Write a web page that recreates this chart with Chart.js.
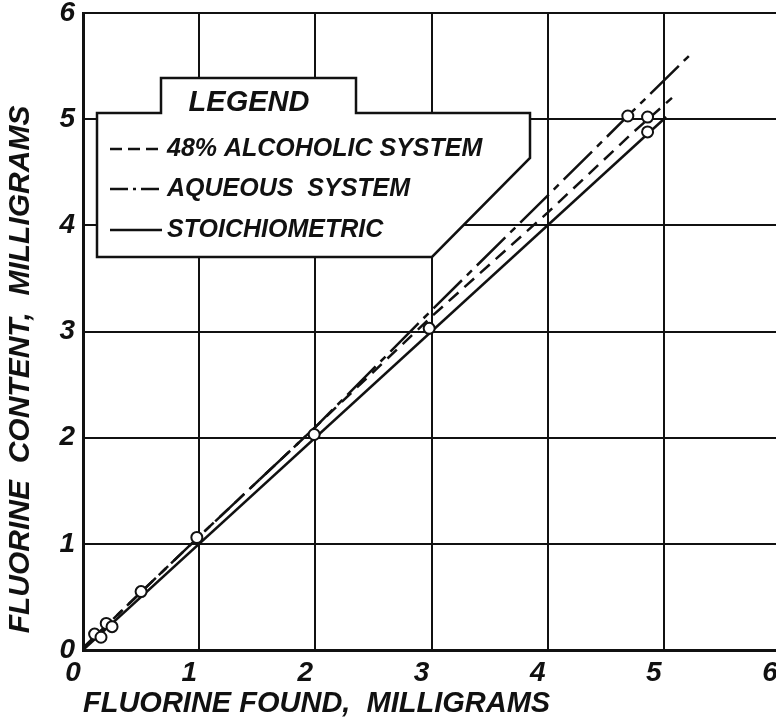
<!DOCTYPE html>
<html>
<head>
<meta charset="utf-8">
<script src="https://cdn.jsdelivr.net/npm/chart.js@4.4.0/dist/chart.umd.min.js"></script>
<style>
  html, body { margin: 0; padding: 0; background: #fff; overflow: hidden; }
  #wrap { width: 776px; height: 721px; overflow: hidden; }
</style>
</head>
<body>
<div id="wrap"><canvas id="fluorineChart" width="800" height="721"></canvas></div>
<script>
// Valores (mg)
const xTicks = [0, 1, 2, 3, 4, 5, 6];
const yTicks = [0, 1, 2, 3, 4, 5, 6];

const foundPoints   = [0.10, 0.155, 0.20, 0.25, 0.50, 0.98, 1.99, 2.98, 4.69, 4.86, 4.86];
const contentPoints = [0.15, 0.12, 0.25, 0.22, 0.55, 1.06, 2.03, 3.03, 5.03, 5.02, 4.88];

const alcoholicFound   = [0, 1, 2, 3, 4, 4.73, 5.07];
const alcoholicContent = [0.02, 1.07, 2.10, 3.14, 4.12, 4.87, 5.20];

const aqueousFound   = [0, 1, 2, 3, 4, 4.69, 5.22];
const aqueousContent = [0.02, 1.07, 2.10, 3.20, 4.28, 5.03, 5.60];

const stoichFound   = [0, 5.02];
const stoichContent = [0, 5.02];

const legendLabels = ['48% ALCOHOLIC SYSTEM', 'AQUEOUS  SYSTEM', 'STOICHIOMETRIC'];

// Verifica se uma fonte local existe (comparando larguras)
function hasFont(name) {
    const c = document.createElement('canvas').getContext('2d');
    const s = 'FLUORINE MILLIGRAMS 0123456';
    return ['monospace', 'serif'].some(fb => {
        c.font = '40px ' + fb;
        const a = c.measureText(s).width;
        c.font = '40px "' + name + '", ' + fb;
        return c.measureText(s).width !== a;
    });
}

const narrow = hasFont('Liberation Sans Narrow');
const FAMILY = narrow ? '"Liberation Sans Narrow", "Liberation Sans", sans-serif' : '"Liberation Sans", sans-serif';
const k = narrow ? 1 : 0.84;
const font = size => ({ family: FAMILY, size: Math.round(size * k), style: 'italic', weight: 'bold' });
const INK = '#111';

const zip = (xs, ys) => xs.map((x, i) => ({ x: x, y: ys[i] }));

// Caixa da legenda com a aba "LEGEND"
const legendBox = {
    id: 'legendBox',
    afterDatasetsDraw(chart) {
        const c = chart.ctx;
        const outline = [[97, 113], [161, 113], [161, 78], [356, 78], [356, 113],
                         [530, 113], [530, 158], [432, 257], [97, 257]];
        c.save();
        c.beginPath();
        outline.forEach(([px, py], i) => i ? c.lineTo(px, py) : c.moveTo(px, py));
        c.closePath();
        c.fillStyle = '#fff';
        c.fill();
        c.lineWidth = 2.5;
        c.strokeStyle = INK;
        c.lineJoin = 'miter';
        c.stroke();

        c.fillStyle = INK;
        c.textBaseline = 'middle';
        c.font = `italic bold ${font(34).size}px ${FAMILY}`;
        c.textAlign = 'center';
        c.fillText('LEGEND', 249, 103);

        const samples = [[12, 6], [18, 5, 3, 5], []];
        const rowsY = [149, 189, 230];
        c.textAlign = 'left';
        c.font = `italic bold ${font(30).size}px ${FAMILY}`;
        legendLabels.forEach((label, i) => {
            c.beginPath();
            c.setLineDash(samples[i]);
            c.lineWidth = 2.5;
            c.moveTo(110, rowsY[i]);
            c.lineTo(162, rowsY[i]);
            c.stroke();
            c.setLineDash([]);
            c.fillText(label, 167, rowsY[i]);
        });
        c.restore();
    }
};

const ctx = document.getElementById('fluorineChart');
new Chart(ctx, {
    type: 'scatter',
    data: {
        datasets: [
            {
                label: 'Determinations',
                data: zip(foundPoints, contentPoints),
                showLine: false,
                pointRadius: 5.5,
                pointBorderWidth: 2,
                pointBackgroundColor: '#fff',
                pointBorderColor: INK
            },
            {
                label: legendLabels[0],
                data: zip(alcoholicFound, alcoholicContent),
                showLine: true,
                borderColor: INK,
                borderWidth: 2.5,
                borderDash: [13, 8],
                pointRadius: 0,
                tension: 0
            },
            {
                label: legendLabels[1],
                data: zip(aqueousFound, aqueousContent),
                showLine: true,
                borderColor: INK,
                borderWidth: 2.5,
                borderDash: [40, 7, 7, 7],
                pointRadius: 0,
                tension: 0
            },
            {
                label: legendLabels[2],
                data: zip(stoichFound, stoichContent),
                showLine: true,
                borderColor: INK,
                borderWidth: 2.5,
                pointRadius: 0,
                tension: 0
            }
        ]
    },
    options: {
        responsive: false,
        animation: false,
        devicePixelRatio: 1,
        layout: { padding: { top: 13, right: 20, left: 0, bottom: 0 } },
        plugins: {
            legend: { display: false },
            tooltip: { enabled: false }
        },
        scales: {
            x: {
                type: 'linear',
                min: 0,
                max: 6,
                afterBuildTicks: s => { s.ticks = xTicks.map(v => ({ value: v })); },
                afterFit: s => { s.height = 71; s.paddingLeft = 0; s.paddingRight = 0; },
                grid: { color: INK, lineWidth: 2, drawTicks: false },
                border: { color: INK, width: 3 },
                ticks: {
                    color: INK,
                    font: font(33),
                    padding: 6,
                    labelOffset: -10,
                    maxRotation: 0,
                    autoSkip: false
                },
                title: {
                    display: true,
                    text: 'FLUORINE FOUND,  MILLIGRAMS',
                    align: 'start',
                    color: INK,
                    font: font(34),
                    padding: { top: 0, bottom: 0 }
                }
            },
            y: {
                type: 'linear',
                min: 0,
                max: 6,
                afterBuildTicks: s => { s.ticks = yTicks.map(v => ({ value: v })); },
                afterFit: s => { s.width = 83; s.paddingTop = 0; s.paddingBottom = 0; },
                grid: { color: INK, lineWidth: 2, drawTicks: false },
                border: { color: INK, width: 3 },
                ticks: {
                    color: INK,
                    font: font(33),
                    padding: 8,
                    autoSkip: false
                },
                title: {
                    display: true,
                    text: '  FLUORINE  CONTENT,  MILLIGRAMS',
                    align: 'start',
                    color: INK,
                    font: font(36),
                    padding: { top: 3, bottom: 0 }
                }
            }
        }
    },
    plugins: [legendBox]
});
</script>
</body>
</html>
